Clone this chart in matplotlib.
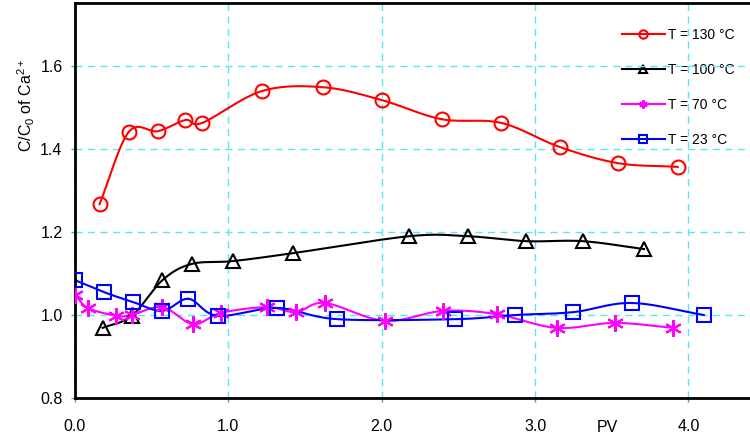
import matplotlib.pyplot as plt
import numpy as np
from matplotlib import rcParams

rcParams['font.family'] = ['Liberation Sans', 'DejaVu Sans']
rcParams['mathtext.fontset'] = 'custom'
rcParams['mathtext.rm'] = 'Liberation Sans'
rcParams['mathtext.it'] = 'Liberation Sans'

# * data
pv_130 = [0.16, 0.35, 0.54, 0.72, 0.83, 1.22, 1.62, 2.00, 2.39, 2.78, 3.16, 3.54, 3.93]
c_130 = [1.267, 1.441, 1.443, 1.470, 1.463, 1.540, 1.549, 1.518, 1.472, 1.463, 1.405, 1.366, 1.357]

pv_100 = [0.18, 0.37, 0.57, 0.76, 1.03, 1.42, 2.18, 2.56, 2.94, 3.31, 3.71]
c_100 = [0.969, 0.998, 1.084, 1.123, 1.130, 1.149, 1.190, 1.190, 1.178, 1.178, 1.159]

pv_70 = [0.0, 0.085, 0.27, 0.37, 0.57, 0.77, 0.95, 1.25, 1.44, 1.63, 2.02, 2.40, 2.75,
         3.14, 3.52, 3.90]
c_70 = [1.048, 1.017, 0.998, 1.000, 1.019, 0.978, 1.005, 1.019, 1.007, 1.029, 0.986,
        1.010, 1.002, 0.969, 0.981, 0.969]

pv_23 = [0.0, 0.19, 0.38, 0.57, 0.74, 0.93, 1.32, 1.71, 2.48, 2.87, 3.25, 3.63, 4.10]
c_23 = [1.084, 1.055, 1.031, 1.010, 1.039, 0.998, 1.017, 0.990, 0.990, 1.000, 1.007,
        1.029, 1.000]

labels = ['T = 130 °C', 'T = 100 °C', 'T = 70 °C', 'T = 23 °C']
x_ticks = [0.0, 1.0, 2.0, 3.0, 4.0]
y_ticks = [0.8, 1.0, 1.2, 1.4, 1.6]


# * smooth line like the spreadsheet "smoothed line" option (Catmull-Rom)
def smooth(x, y, n=20):
    x = np.asarray(x, float)
    y = np.asarray(y, float)
    px = np.concatenate([[2 * x[0] - x[1]], x, [2 * x[-1] - x[-2]]])
    py = np.concatenate([[2 * y[0] - y[1]], y, [2 * y[-1] - y[-2]]])
    xs, ys = [], []
    t = np.linspace(0, 1, n)
    for i in range(1, len(px) - 2):
        for p, out in ((px, xs), (py, ys)):
            p0, p1, p2, p3 = p[i - 1], p[i], p[i + 1], p[i + 2]
            out.extend(0.5 * (2 * p1 + (-p0 + p2) * t
                              + (2 * p0 - 5 * p1 + 4 * p2 - p3) * t ** 2
                              + (-p0 + 3 * p1 - 3 * p2 + p3) * t ** 3))
    return xs, ys


fig = plt.figure(figsize=(7.5, 4.41), dpi=100)
ax = fig.add_axes([0.1, 43 / 441, 0.91, 395 / 441])

series = [
    (pv_130, c_130, 'red', 'o', 10),
    (pv_100, c_100, 'black', '^', 10),
    (pv_70, c_70, 'magenta', (6, 2, 0), 12),
    (pv_23, c_23, 'blue', 's', 10),
]

for (x, y, col, mk, ms), lab in zip(series, labels):
    sx, sy = smooth(x, y)
    ax.plot(sx, sy, color=col, linewidth=1.5, zorder=2)
    ax.plot(x, y, linestyle='none', marker=mk, markersize=ms,
            markerfacecolor='none', markeredgecolor=col, markeredgewidth=1.5,
            zorder=3)
    ax.plot([], [], color=col, linewidth=1.5, marker=mk, markersize=6,
            markerfacecolor='none', markeredgecolor=col, markeredgewidth=1.5,
            label=lab)

ax.set_xlim(0, 4.45)
ax.set_ylim(0.8, 1.752)
ax.set_xticks(x_ticks)
ax.set_xticklabels(['%.1f' % v for v in x_ticks])
ax.set_yticks(y_ticks)
ax.set_yticklabels(['%.1f' % v for v in y_ticks])
ax.tick_params(axis='both', direction='out', length=3, width=1,
               color='#888888', labelsize=11.5, pad=6)
ax.tick_params(axis='x', pad=12)

ax.grid(True, color='#55e8f0', linestyle=(0, (5, 4)), linewidth=1, zorder=0)
for s in ['left', 'bottom', 'top']:
    ax.spines[s].set_linewidth(2)
ax.spines['right'].set_visible(False)

ax.set_ylabel('C/C$_0$ of Ca$^{2+}$', fontsize=11.5)
ax.yaxis.set_label_coords(-0.056, 0.74)
ax.text(3.47, 0.728, 'PV', fontsize=11.5, ha='center', va='center',
        clip_on=False)

leg = ax.legend(loc='upper right', bbox_to_anchor=(0.985, 0.968), frameon=True,
                edgecolor='none', facecolor='white', framealpha=1,
                fontsize=10, labelspacing=1.5, handlelength=3.1,
                handletextpad=0.25, borderpad=0.4, fancybox=False)
leg.set_zorder(1)

plt.savefig('out.png', dpi=100)
